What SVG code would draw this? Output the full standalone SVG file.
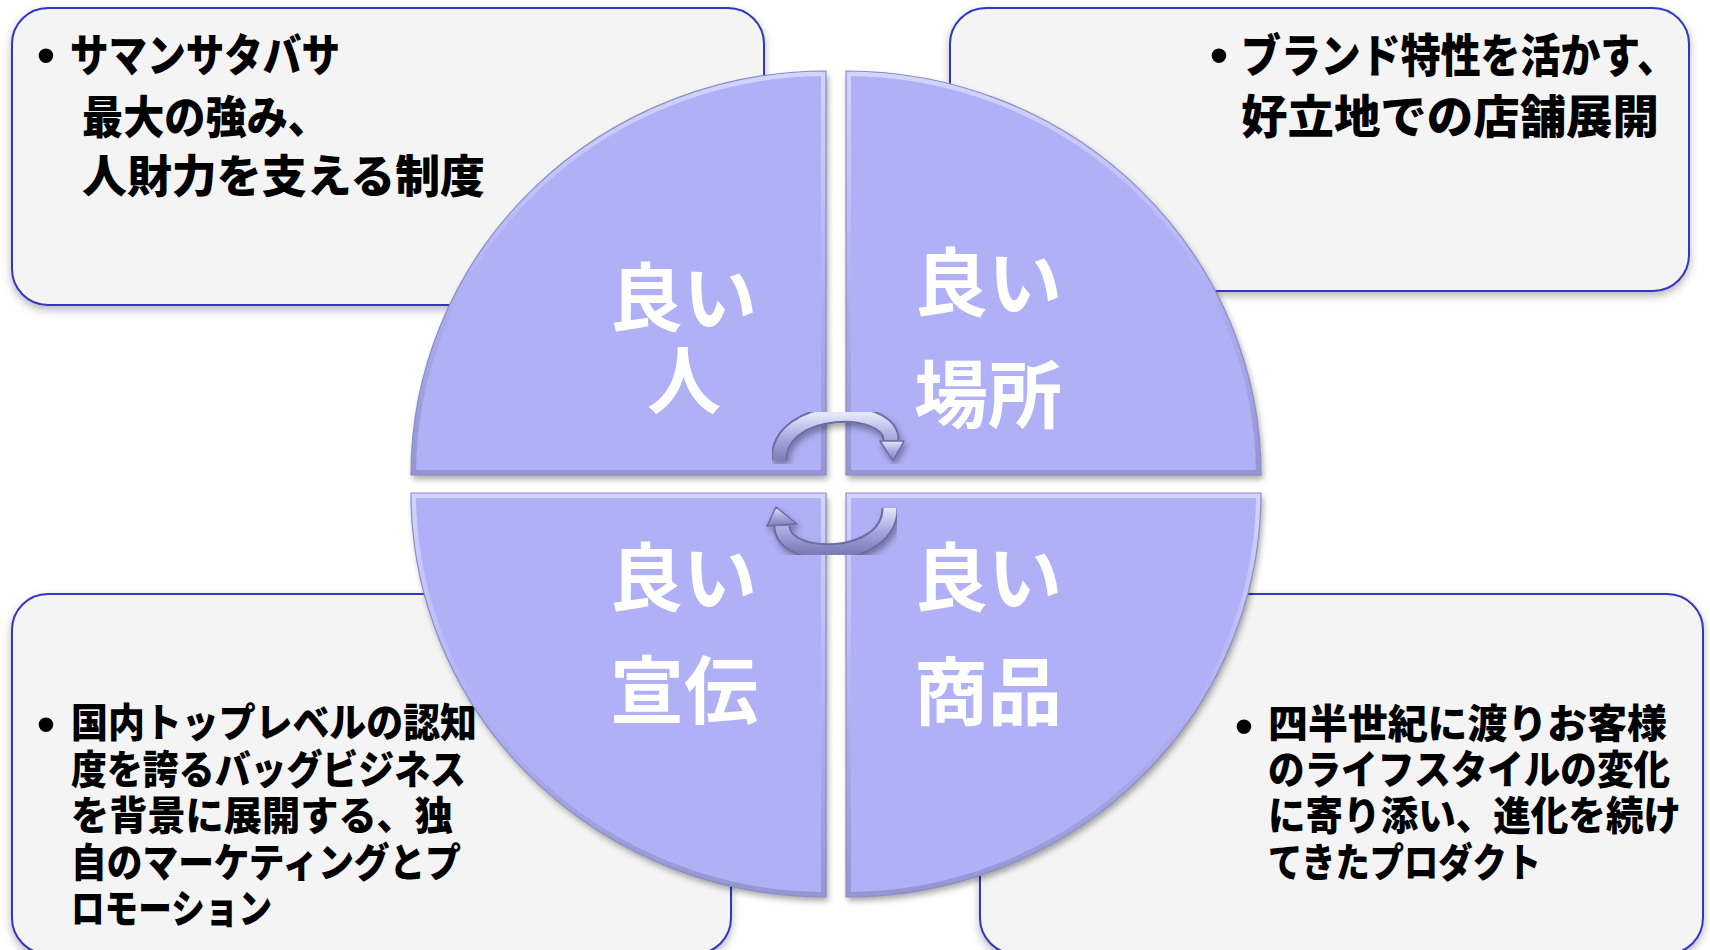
<svg xmlns="http://www.w3.org/2000/svg" width="1710" height="950" viewBox="0 0 1710 950">
<style>
.box{fill:#f4f4f4;stroke:#3434c4;stroke-width:2;}
.bt{font-family:"Noto Sans CJK JP","Noto Sans",sans-serif;font-weight:900;fill:#000;dominant-baseline:central;}
.bul{font-family:"Liberation Sans",sans-serif;fill:#000;text-anchor:middle;dominant-baseline:central;font-size:54px;}
.q{fill:#afb0f5;}
.rim{fill:none;stroke:url(#rimg);stroke-width:10;}
.edge{fill:none;stroke:#8c8dc6;stroke-width:1.2;}
.ql{font-family:"Noto Sans CJK JP","Noto Sans",sans-serif;font-weight:700;fill:#fff;font-size:74px;text-anchor:middle;dominant-baseline:central;}
.band-o{fill:none;stroke:#6b6ca4;stroke-width:17;}
.band-i{fill:none;stroke:url(#bandg);stroke-width:13;}
.head{fill:url(#bandg);stroke:#6b6ca4;stroke-width:1.5;stroke-linejoin:round;}
</style>
<defs>
<filter id="bsh" x="-5%" y="-5%" width="110%" height="115%">
<feDropShadow dx="0" dy="4" stdDeviation="4" flood-color="#000" flood-opacity="0.28"/>
</filter>
<filter id="qsh" x="-5%" y="-5%" width="110%" height="110%">
<feDropShadow dx="2" dy="4" stdDeviation="3" flood-color="#000" flood-opacity="0.35"/>
</filter>
<linearGradient id="rimg" x1="0" y1="0" x2="0" y2="1">
<stop offset="0" stop-color="#d4d5fc"/>
<stop offset="0.5" stop-color="#b2b3f5"/>
<stop offset="1" stop-color="#9495d2"/>
</linearGradient>
<linearGradient id="bandg" x1="0" y1="0" x2="0" y2="1">
<stop offset="0" stop-color="#e6e6fb"/>
<stop offset="0.5" stop-color="#a9aadf"/>
<stop offset="1" stop-color="#7d7eb8"/>
</linearGradient>
<clipPath id="cTL"><path d="M826,71 L826,475 L411,475 A415,404 0 0 1 826,71 Z"/></clipPath>
<clipPath id="cTR"><path d="M846,71 A415,404 0 0 1 1261,475 L846,475 Z"/></clipPath>
<clipPath id="cBL"><path d="M411,493 L826,493 L826,897 A415,404 0 0 1 411,493 Z"/></clipPath>
<clipPath id="cBR"><path d="M846,493 L1261,493 A415,404 0 0 1 846,897 Z"/></clipPath>
</defs>
<rect width="1710" height="950" fill="#fff"/>

<g id="box-tl">
<rect class="box" x="12" y="8" width="752" height="297" rx="36" filter="url(#bsh)"/>
<text class="bul" x="46" y="55">•</text>
<text class="bt" x="70" y="52" font-size="45" textLength="270" lengthAdjust="spacingAndGlyphs">サマンサタバサ</text>
<text class="bt" x="82" y="114" font-size="45" textLength="247" lengthAdjust="spacingAndGlyphs">最大の強み、</text>
<text class="bt" x="82" y="173" font-size="45" textLength="403" lengthAdjust="spacingAndGlyphs">人財力を支える制度</text>
</g>

<g id="box-tr">
<rect class="box" x="950" y="8" width="739" height="283" rx="36" filter="url(#bsh)"/>
<text class="bul" x="1219" y="55">•</text>
<text class="bt" x="1241" y="52" font-size="46" textLength="436" lengthAdjust="spacingAndGlyphs">ブランド特性を活かす、</text>
<text class="bt" x="1241" y="113" font-size="46" textLength="418" lengthAdjust="spacingAndGlyphs">好立地での店舗展開</text>
</g>

<g id="box-bl">
<rect class="box" x="12" y="594" width="719" height="360" rx="36" filter="url(#bsh)"/>
<text class="bul" x="46" y="724" font-size="48">•</text>
<text class="bt" x="71" y="720" font-size="40" textLength="406" lengthAdjust="spacingAndGlyphs">国内トップレベルの認知</text>
<text class="bt" x="71" y="767" font-size="40" textLength="395" lengthAdjust="spacingAndGlyphs">度を誇るバッグビジネス</text>
<text class="bt" x="71" y="813" font-size="40" textLength="382" lengthAdjust="spacingAndGlyphs">を背景に展開する、独</text>
<text class="bt" x="71" y="860" font-size="40" textLength="390" lengthAdjust="spacingAndGlyphs">自のマーケティングとプ</text>
<text class="bt" x="71" y="906" font-size="40" textLength="201" lengthAdjust="spacingAndGlyphs">ロモーション</text>
</g>

<g id="box-br">
<rect class="box" x="980" y="594" width="723" height="360" rx="36" filter="url(#bsh)"/>
<text class="bul" x="1244" y="726" font-size="48">•</text>
<text class="bt" x="1268" y="721" font-size="40" textLength="399" lengthAdjust="spacingAndGlyphs">四半世紀に渡りお客様</text>
<text class="bt" x="1268" y="767" font-size="40" textLength="402" lengthAdjust="spacingAndGlyphs">のライフスタイルの変化</text>
<text class="bt" x="1268" y="813" font-size="40" textLength="413" lengthAdjust="spacingAndGlyphs">に寄り添い、進化を続け</text>
<text class="bt" x="1268" y="860" font-size="40" textLength="273" lengthAdjust="spacingAndGlyphs">てきたプロダクト</text>
</g>

<g id="q-tl">
<path class="q" d="M826,71 L826,475 L411,475 A415,404 0 0 1 826,71 Z" filter="url(#qsh)"/>
<path class="rim" clip-path="url(#cTL)" d="M826,71 L826,475 L411,475 A415,404 0 0 1 826,71 Z"/>
<path class="edge" d="M826,71 L826,475 L411,475 A415,404 0 0 1 826,71 Z"/>
<text class="ql" x="683" y="292">良い</text>
<text class="ql" x="684" y="375">人</text>
</g>
<g id="q-tr">
<path class="q" d="M846,71 A415,404 0 0 1 1261,475 L846,475 Z" filter="url(#qsh)"/>
<path class="rim" clip-path="url(#cTR)" d="M846,71 A415,404 0 0 1 1261,475 L846,475 Z"/>
<path class="edge" d="M846,71 A415,404 0 0 1 1261,475 L846,475 Z"/>
<text class="ql" x="988" y="277">良い</text>
<text class="ql" x="988" y="389">場所</text>
</g>
<g id="q-bl">
<path class="q" d="M411,493 L826,493 L826,897 A415,404 0 0 1 411,493 Z" filter="url(#qsh)"/>
<path class="rim" clip-path="url(#cBL)" d="M411,493 L826,493 L826,897 A415,404 0 0 1 411,493 Z"/>
<path class="edge" d="M411,493 L826,493 L826,897 A415,404 0 0 1 411,493 Z"/>
<text class="ql" x="683" y="572">良い</text>
<text class="ql" x="684" y="685">宣伝</text>
</g>
<g id="q-br">
<path class="q" d="M846,493 L1261,493 A415,404 0 0 1 846,897 Z" filter="url(#qsh)"/>
<path class="rim" clip-path="url(#cBR)" d="M846,493 L1261,493 A415,404 0 0 1 846,897 Z"/>
<path class="edge" d="M846,493 L1261,493 A415,404 0 0 1 846,897 Z"/>
<text class="ql" x="988" y="572">良い</text>
<text class="ql" x="988" y="686">商品</text>
</g>

<g id="connectors">
<g id="arrow-top" filter="url(#qsh)">
<path class="band-o" d="M779,460 C779,403 891,403 891,440"/>
<path class="band-i" d="M779,460 C779,403 891,403 891,440"/>
<polygon class="head" points="880,441 904,441 893,461"/>
</g>
<g id="arrow-bottom" filter="url(#qsh)">
<path class="band-o" d="M890,508 C890,563 782,563 782,526"/>
<path class="band-i" d="M890,508 C890,563 782,563 782,526"/>
<polygon class="head" points="767,526 797,524 776,507"/>
</g>
</g>
</svg>
